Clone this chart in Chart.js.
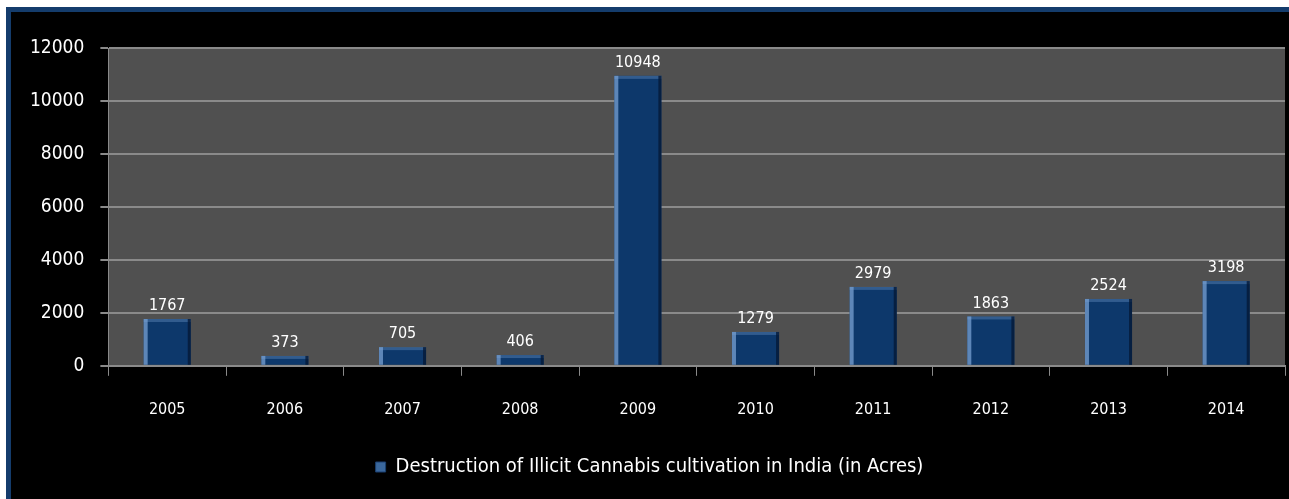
<!DOCTYPE html>
<html>
<head>
<meta charset="utf-8">
<script src="https://cdn.jsdelivr.net/npm/chart.js@4.4.0/dist/chart.umd.min.js"></script>
<style>
  html, body { margin: 0; padding: 0; background: #fff; overflow: hidden; }
  #frame {
    position: absolute; left: 6px; top: 7px; width: 1283px; height: 492px;
    border-top: 5px solid #143c6c; border-left: 5px solid #143c6c;
    background: #000;
  }
  #wrap { position: absolute; left: 0; top: 0; width: 1278px; height: 487px; }
</style>
</head>
<body>
<div id="frame"><div id="wrap"><canvas id="barChart"></canvas></div></div>
<script>
const years = ['2005', '2006', '2007', '2008', '2009', '2010', '2011', '2012', '2013', '2014'];
const acres = [1767, 373, 705, 406, 10948, 1279, 2979, 1863, 2524, 3198];
const seriesName = 'Destruction of Illicit Cannabis cultivation in India (in Acres)';
const yTicks = [0, 2000, 4000, 6000, 8000, 10000, 12000];

const fontFamily = "'Liberation Sans Narrow', 'DejaVu Sans Condensed', 'Arial Narrow', Arial, sans-serif";

// gray plot background
const plotBackground = {
  id: 'plotBackground',
  beforeDraw(chart) {
    const { ctx, chartArea } = chart;
    ctx.save();
    ctx.fillStyle = '#505050';
    ctx.fillRect(chartArea.left, chartArea.top, chartArea.right - chartArea.left, chartArea.bottom - chartArea.top);
    ctx.restore();
  }
};

// shading on bars + value labels above them
const barDecor = {
  id: 'barDecor',
  afterDatasetsDraw(chart) {
    const ctx = chart.ctx;
    const meta = chart.getDatasetMeta(0);
    ctx.save();
    meta.data.forEach((bar, i) => {
      const left = bar.x - bar.width / 2;
      const h = bar.base - bar.y;
      ctx.fillStyle = 'rgba(120,160,210,0.75)';
      ctx.fillRect(left, bar.y, 4, h);
      ctx.fillStyle = 'rgba(120,160,210,0.35)';
      ctx.fillRect(left, bar.y, bar.width, 3);
      ctx.fillStyle = 'rgba(5,25,55,0.8)';
      ctx.fillRect(left + bar.width - 3, bar.y, 3, h);
      ctx.fillStyle = '#ffffff';
      ctx.font = '16px ' + fontFamily;
      ctx.textAlign = 'center';
      ctx.textBaseline = 'bottom';
      ctx.fillText(acres[i], bar.x, bar.y - 5);
    });
    ctx.restore();
  }
};

const ctx = document.getElementById('barChart').getContext('2d');
const myChart = new Chart(ctx, {
  type: 'bar',
  data: {
    labels: years,
    datasets: [{
      label: seriesName,
      data: acres,
      backgroundColor: '#0d386b',
      borderWidth: 0,
      barPercentage: 0.4,
      categoryPercentage: 1.0
    }]
  },
  options: {
    responsive: true,
    maintainAspectRatio: false,
    animation: false,
    layout: { padding: { left: 3, right: 4, top: 36, bottom: 12 } },
    plugins: {
      tooltip: { enabled: false },
      legend: {
        position: 'bottom',
        labels: {
          color: '#ffffff',
          font: { family: fontFamily, size: 20 },
          boxWidth: 10,
          boxHeight: 10,
          padding: 14,
          generateLabels(chart) {
            return [{
              text: seriesName,
              fillStyle: '#3a679c',
              strokeStyle: '#1a3f70',
              lineWidth: 1,
              fontColor: '#ffffff',
              datasetIndex: 0
            }];
          }
        }
      }
    },
    scales: {
      x: {
        offset: true,
        grid: {
          offset: true,
          drawOnChartArea: false,
          drawTicks: true,
          tickLength: 10,
          color: '#8a8a8a',
          lineWidth: 1
        },
        border: { display: true, color: '#8a8a8a', width: 2 },
        ticks: {
          color: '#ffffff',
          font: { family: fontFamily, size: 16 },
          padding: 24
        }
      },
      y: {
        min: 0,
        max: 12000,
        afterBuildTicks(axis) {
          axis.ticks = yTicks.map(v => ({ value: v }));
        },
        grid: {
          color: '#8a8a8a',
          lineWidth: 2,
          drawTicks: true,
          tickLength: 8
        },
        border: { display: true, color: '#8a8a8a', width: 1 },
        ticks: {
          color: '#ffffff',
          font: { family: fontFamily, size: 19 },
          padding: 16,
          callback: (v) => String(v)
        }
      }
    }
  },
  plugins: [plotBackground, barDecor]
});
</script>
</body>
</html>
